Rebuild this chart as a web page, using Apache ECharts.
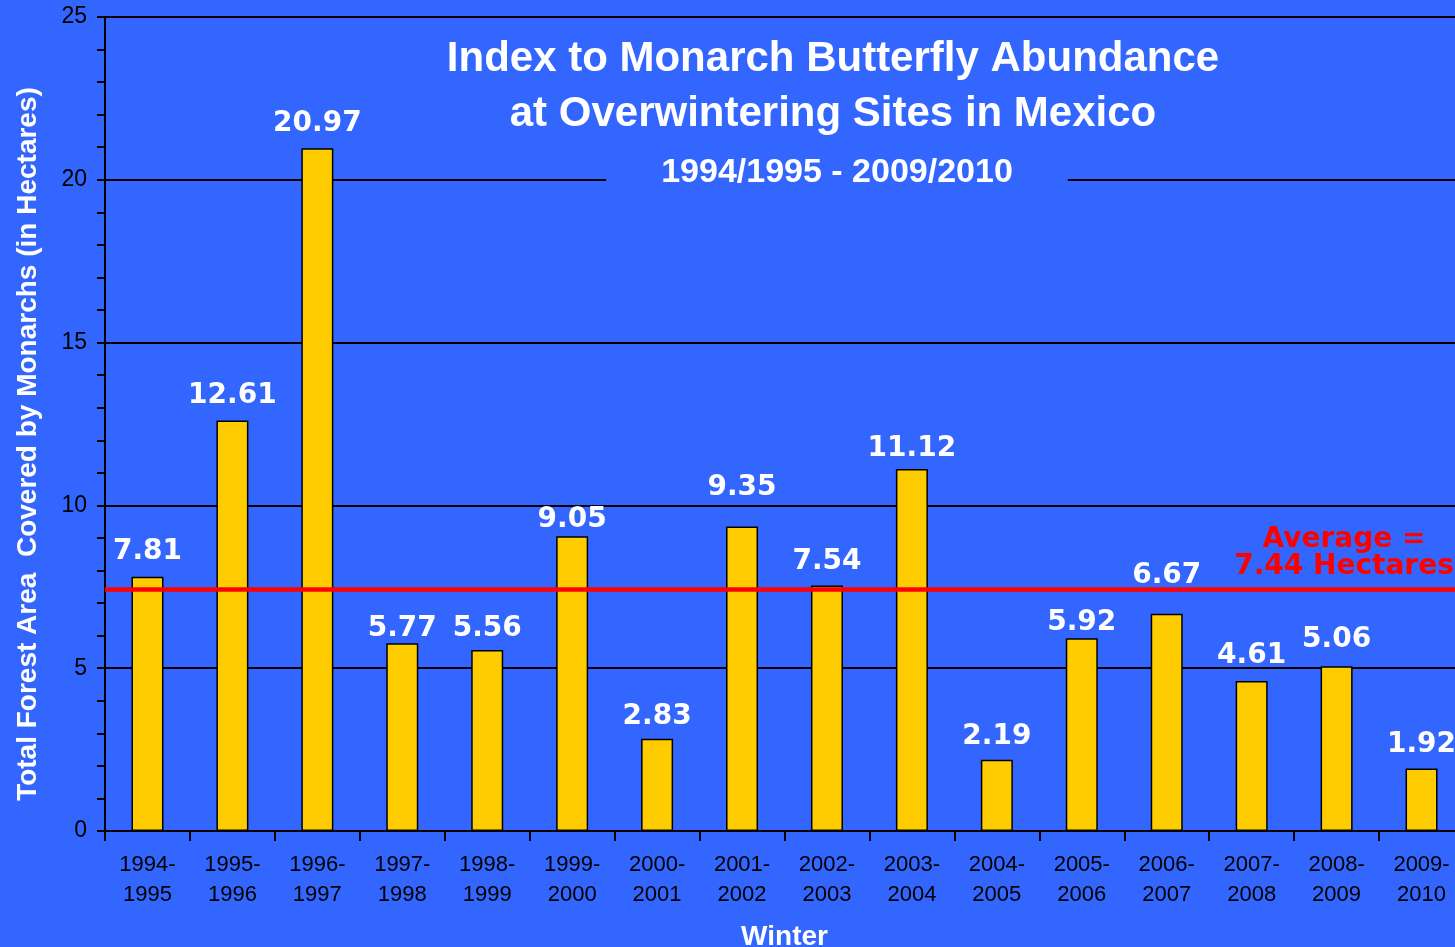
<!DOCTYPE html>
<html><head><meta charset="utf-8">
<script src="https://cdn.jsdelivr.net/npm/echarts@6/dist/echarts.min.js"></script>
<style>html,body{margin:0;padding:0;background:#3366FF;}#c{width:1455px;height:947px;}</style>
</head><body><div id="c"></div>
<script>
var categories = ['1994-\n1995','1995-\n1996','1996-\n1997','1997-\n1998','1998-\n1999','1999-\n2000','2000-\n2001','2001-\n2002','2002-\n2003','2003-\n2004','2004-\n2005','2005-\n2006','2006-\n2007','2007-\n2008','2008-\n2009','2009-\n2010'];
var hectares = [7.81,12.61,20.97,5.77,5.56,9.05,2.83,9.35,7.54,11.12,2.19,5.92,6.67,4.61,5.06,1.92];
var averageValue = 7.44;
var titleLines = 'Index to Monarch Butterfly Abundance\nat Overwintering Sites in Mexico';
var subtitleText = '1994/1995 - 2009/2010';
var averageText = 'Average =\n' + averageValue.toFixed(2) + ' Hectares';

// label spacing above each bar (style only, as hand-placed in the original)
var labelGaps = [11,11,10,0,7,3,8,25,10,6,9,2,24,11,13,10];

var barData = hectares.map(function (v, i) {
  return {value: v, label: {distance: labelGaps[i]}};
});

var chart = echarts.init(document.getElementById('c'));
chart.setOption({
  backgroundColor: '#3366FF',
  animation: false,
  title: [
    {text: titleLines, left: 828, top: 27, textAlign: 'center',
     textStyle: {color: '#fff', fontFamily: 'Liberation Sans', fontWeight: 'bold', fontSize: 42, lineHeight: 55}},
    {text: subtitleText, left: 782, top: 152, textAlign: 'center', backgroundColor: '#3366FF', padding: [4, 55, 4, 55],
     textStyle: {color: '#fff', fontFamily: 'Liberation Sans', fontWeight: 'bold', fontSize: 34}},
    {text: averageText, left: 1344, top: 526, textAlign: 'center', padding: 0,
     textStyle: {color: '#FF0000', fontFamily: 'DejaVu Sans', fontWeight: 'bold', fontSize: 28, lineHeight: 27, align: 'center'}}
  ],
  grid: {left: 105, top: 17, width: 1359, height: 814, containLabel: false, outerBoundsMode: 'none'},
  xAxis: {
    type: 'category', data: categories, boundaryGap: true,
    name: 'Winter', nameLocation: 'middle', nameGap: 92,
    nameTextStyle: {color: '#fff', fontFamily: 'Liberation Sans', fontWeight: 'bold', fontSize: 28},
    axisLine: {lineStyle: {color: '#000', width: 2}},
    axisTick: {show: true, length: 10, lineStyle: {color: '#000', width: 2}, inside: false},
    axisLabel: {color: '#000', fontFamily: 'Liberation Sans', fontSize: 22, lineHeight: 30, margin: 19, interval: 0}
  },
  yAxis: {
    type: 'value', min: 0, max: 25, interval: 5,
    name: 'Total Forest Area  Covered by Monarchs (in Hectares)', nameLocation: 'middle', nameGap: 63,
    nameTextStyle: {color: '#fff', fontFamily: 'Liberation Sans', fontWeight: 'bold', fontSize: 28, padding: [0, 40, 0, 0]},
    axisLine: {show: true, lineStyle: {color: '#000', width: 2}},
    axisTick: {show: true, length: 8, lineStyle: {color: '#000', width: 2}},
    minorTick: {show: true, splitNumber: 5, length: 8, lineStyle: {color: '#000', width: 2}},
    splitLine: {show: true, lineStyle: {color: '#000', width: 2}},
    axisLabel: {color: '#000', fontFamily: 'Liberation Sans', fontSize: 23, margin: 18}
  },
  series: [{
    type: 'bar', data: barData, barWidth: 32,
    itemStyle: {color: '#FFCC00', borderColor: '#000', borderWidth: 1.5},
    label: {show: true, position: 'top', formatter: function(p){return p.value.toFixed(2);},
      color: '#fff', fontFamily: 'DejaVu Sans', fontWeight: 'bold', fontSize: 28},
    markLine: {
      silent: true, symbol: 'none',
      lineStyle: {color: '#FF0000', width: 4.5, type: 'solid'},
      data: [{yAxis: averageValue}],
      label: {show: false}
    }
  }]
});
</script></body></html>
